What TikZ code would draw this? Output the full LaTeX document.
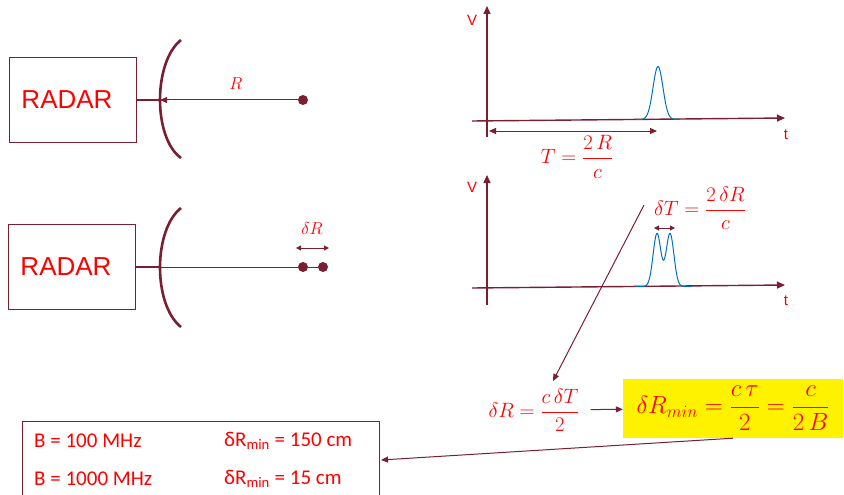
\documentclass[tikz,border=0pt]{standalone}
\usepackage{amsmath}
\usepackage{fontspec}
\setmainfont{Liberation Sans}
\newfontfamily\calibri{Carlito}
\usepackage{tikz}
\usetikzlibrary{arrows.meta, positioning, calc}
\definecolor{wine}{RGB}{122,30,50}
\definecolor{pulseblue}{RGB}{0,112,192}
\tikzset{
    radarbox/.style={rectangle, draw=wine, line width=1.3pt, minimum width=127pt, minimum height=85pt, text=red, font=\fontsize{26}{30}\selectfont},
    arrow/.style={wine, line width=1pt, -{Triangle[length=7pt,width=6pt]}}
}

\begin{document}
\begin{tikzpicture}[x=1pt, y=-1pt,
    dot/.style={circle, fill=wine, inner sep=0pt, minimum size=10pt},
    axis/.style={wine, line width=1.4pt, -{Triangle[length=8pt,width=7pt]}},
    dim/.style={wine, line width=1pt, {Triangle[length=7pt,width=6pt]}-{Triangle[length=7pt,width=6pt]}},
    lbl/.style={text=red, inner sep=1pt},
    dish/.style={wine, line width=2.6pt},
    pulse/.style={pulseblue, line width=1pt}]

    \useasboundingbox (0,0) rectangle (844,495);

    % single target at range R
    \node (radarA) [radarbox] at (73,100) {\hspace*{-12pt}RADAR};
    \coordinate (dishA) at (160,100);
    \draw [dish] (181,40) .. controls (153,62) and (153,138) .. (181,158);
    \node (targetA) [dot] at (303,100) {};
    \draw [wine, line width=1.4pt] (radarA) -- (dishA);
    \draw [arrow] (targetA) -- (dishA);
    \node (rlabel) [lbl, font=\fontsize{17}{20}\selectfont] at (236,84) {$R$};

    % two close targets
    \node (radarB) [radarbox] at (72,267) {\hspace*{-12pt}RADAR};
    \coordinate (dishB) at (160,267);
    \draw [dish] (181,208) .. controls (153,230) and (153,305) .. (181,327);
    \node (targetB1) [dot] at (303,267) {};
    \node (targetB2) [dot] at (323,267) {};
    \draw [wine, line width=1.4pt] (radarB) -- (dishB);
    \draw [wine, line width=0.8pt] (dishB) -- (targetB1) -- (targetB2);
    \coordinate (drL) at (296,248);
    \coordinate (drR) at (329,248);
    \draw [dim, {Triangle[length=5pt,width=5pt]}-{Triangle[length=5pt,width=5pt]}] (drL) -- (drR);
    \node (drlabel) [lbl, font=\fontsize{17}{20}\selectfont] at (312,228) {$\delta R$};

    % echo of one target
    \draw [axis] (487,137) -- (487,6);
    \draw [axis] (472,121) -- (785,118);
    \node (vA) [lbl, font=\fontsize{15}{17}\selectfont] at (472,20) {V};
    \node (tA) [lbl, font=\fontsize{15}{17}\selectfont] at (786,135) {t};
    \draw [pulse] plot [domain=636:680, samples=60] (\x, {119.5 - 53*exp(-((\x-658)/7)*((\x-658)/7))});
    \coordinate (t0) at (489,131);
    \coordinate (techo) at (657,131);
    \draw [dim] (t0) -- (techo);
    \node (tlabel) [lbl, font=\fontsize{20}{24}\selectfont] at (577,157) {$T = \dfrac{2\,R}{c}$};

    % echoes of two close targets
    \draw [axis] (487,305) -- (487,175);
    \draw [axis] (472,288) -- (785,285);
    \node (vB) [lbl, font=\fontsize{15}{17}\selectfont] at (472,187) {V};
    \node (tB) [lbl, font=\fontsize{15}{17}\selectfont] at (786,301) {t};
    \draw [pulse] plot [domain=635:692, samples=90] (\x, {286.5 - 53*exp(-((\x-657)/5.5)*((\x-657)/5.5)) - 53*exp(-((\x-670)/5.5)*((\x-670)/5.5))});
    \coordinate (dtL) at (654,228);
    \coordinate (dtR) at (675,228);
    \draw [dim, {Triangle[length=5pt,width=5pt]}-{Triangle[length=5pt,width=5pt]}] (dtL) -- (dtR);
    \node (dtlabel) [lbl, font=\fontsize{20}{24}\selectfont] at (700,208) {$\delta T = \dfrac{2\,\delta R}{c}$};

    % resolution
    \node (formR) [lbl, font=\fontsize{21}{25}\selectfont] at (534,410) {$\delta R = \dfrac{c\,\delta T}{2}$};
    \node (minbox) [fill=yellow, text=red, inner sep=0pt, minimum width=220pt, minimum height=59pt, font=\fontsize{24}{28}\selectfont] at (733,408.5) {$\delta R_{min} = \dfrac{c\,\tau}{2} = \dfrac{c}{2\,B}$};
    \coordinate (linkstart) at (644,205);
    \coordinate (linkend) at (553,381);
    \draw [arrow] (linkstart) -- (linkend);
    \draw [arrow, shorten <=10pt] (formR) -- (minbox);

    % numbers
    \draw [wine, line width=0.8pt] (22,497) |- (379,421) -- (379,497);
    \coordinate (tab) at (381,460);
    \draw [arrow] (minbox.south) -- (tab);
    \node (bA) [lbl, anchor=west, font=\calibri\fontsize{21}{25}\selectfont] at (33,441) {B = 100 MHz};
    \node (rA) [lbl, anchor=west, font=\calibri\fontsize{21}{25}\selectfont] at (223,441) {δR\textsubscript{min} = 150 cm};
    \node (bB) [lbl, anchor=west, font=\calibri\fontsize{21}{25}\selectfont] at (33,479) {B = 1000 MHz};
    \node (rB) [lbl, anchor=west, font=\calibri\fontsize{21}{25}\selectfont] at (223,479) {δR\textsubscript{min} = 15 cm};
\end{tikzpicture}
\end{document}
